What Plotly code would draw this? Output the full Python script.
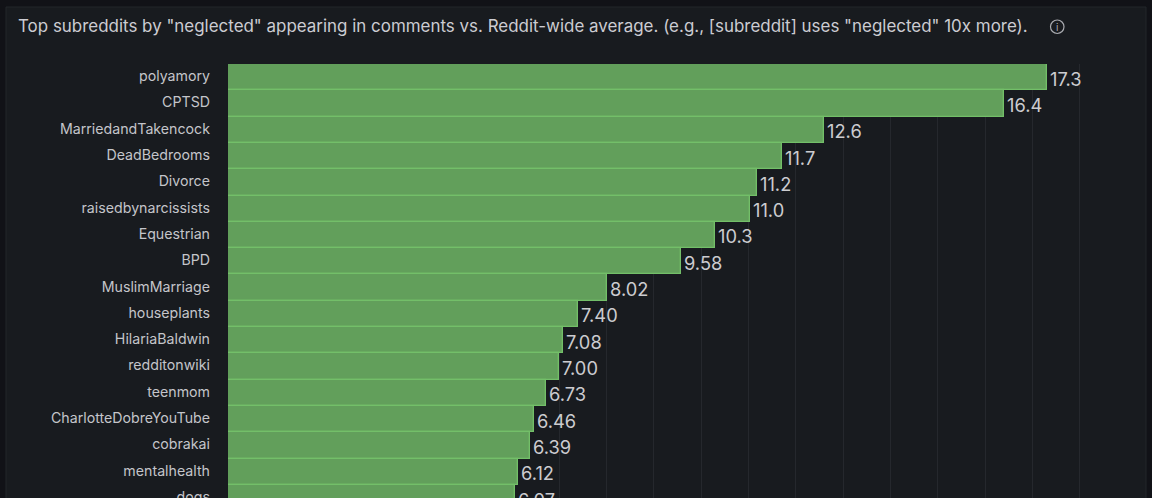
import plotly.graph_objects as go

subreddits = ['polyamory', 'CPTSD', 'MarriedandTakencock', 'DeadBedrooms', 'Divorce',
              'raisedbynarcissists', 'Equestrian', 'BPD', 'MuslimMarriage', 'houseplants',
              'HilariaBaldwin', 'redditonwiki', 'teenmom', 'CharlotteDobreYouTube',
              'cobrakai', 'mentalhealth', 'dogs']
ratios = [17.3, 16.4, 12.6, 11.7, 11.18, 11.04, 10.3, 9.58, 8.02, 7.40, 7.08, 7.00, 6.73, 6.46, 6.39, 6.12, 6.07]
ratio_labels = ['17.3', '16.4', '12.6', '11.7', '11.2', '11.0', '10.3', '9.58', '8.02', '7.40',
                '7.08', '7.00', '6.73', '6.46', '6.39', '6.12', '6.07']

title = 'Top subreddits by "neglected" appearing in comments vs. Reddit-wide average. (e.g., [subreddit] uses "neglected" 10x more).'

W, H = 1152, 498
left, right, top = 228, 1127, 64

# pixel position to paper coordinates
def px(x):
    return (x - left) / (right - left)

def py(y):
    return 1 - (y - top) / (H - top)

fig = go.Figure()

fig.add_trace(go.Bar(
    x=ratios,
    y=subreddits,
    orientation='h',
    marker=dict(color='#629f5b', line=dict(color='#73bf69', width=1.3)),
))

annotations = [
    dict(text=title, xref='paper', yref='paper', x=px(15.5), y=py(26), xanchor='left', yanchor='middle',
         showarrow=False, font=dict(family='Inter', size=16.95, color='#ccccd2')),
    dict(text='i', xref='paper', yref='paper', x=px(1057.2), y=py(27), xanchor='center', yanchor='middle',
         showarrow=False, font=dict(family='Inter', size=10, color='#a9abb0')),
]
# value labels sit a little below the bar centre, so annotations instead of bar text
for name, value, label in zip(subreddits, ratios, ratio_labels):
    annotations.append(dict(text=label, x=value, y=name, xanchor='left', yanchor='middle', xshift=1, yshift=-1.5,
                            showarrow=False, font=dict(family='Inter', size=18.3, color='#ccccd0')))

fig.update_layout(
    width=W,
    height=H,
    margin=dict(l=left, r=W - right, t=top, b=0),
    paper_bgcolor='#111217',
    plot_bgcolor='rgba(0,0,0,0)',
    bargap=0,
    showlegend=False,
    font=dict(family='Inter'),
    xaxis=dict(range=[0, 19], dtick=1, showticklabels=False, zeroline=False, automargin=False,
               showgrid=True, gridcolor='#25282d', gridwidth=1),
    yaxis=dict(autorange=False, range=[16.0, -0.5], showgrid=False, zeroline=False, automargin=False,
               ticklabelstandoff=17, ticklabelshift=1, tickfont=dict(family='Inter', size=14.2, color='#c4c5ca')),
    shapes=[
        dict(type='rect', xref='paper', yref='paper', layer='below',
             x0=px(6), x1=px(1146), y0=py(540), y1=py(7),
             fillcolor='#181b1f', line=dict(color='#23262b', width=1)),
        dict(type='circle', xref='paper', yref='paper',
             x0=px(1050.5), x1=px(1064), y0=py(33.5), y1=py(20),
             line=dict(color='#a9abb0', width=1.2)),
    ],
    annotations=annotations,
)

# drop the browser's default body margin so the figure fills the window
fig.write_html("out.html", config=dict(displayModeBar=False),
               post_script="document.body.style.margin='0';document.documentElement.style.overflow='hidden';")
